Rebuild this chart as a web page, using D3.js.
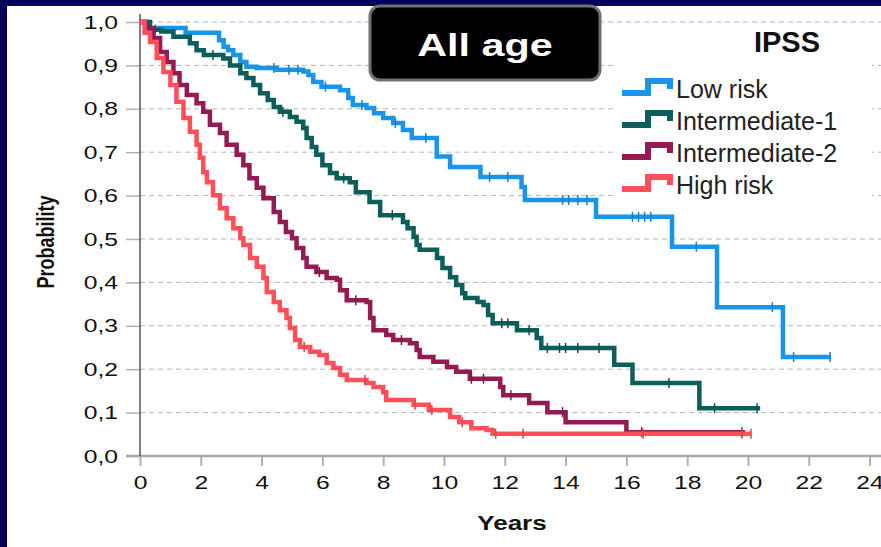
<!DOCTYPE html>
<html>
<head>
<meta charset="utf-8">
<script src="https://cdn.jsdelivr.net/npm/d3@7"></script>
<style>
  body { margin: 0; background: #fff; }
  svg { display: block; font-family: "Liberation Sans", Arial, sans-serif; }
</style>
</head>
<body>
<svg id="chart" width="881" height="547"></svg>
<script>
// step points [years, probability]
var lowRisk = [[0,1],[0.2,0.986],[1.5,0.975],[2.6,0.958],[2.75,0.943],[2.9,0.935],[3.07,0.924],[3.3,0.908],[3.5,0.897],[3.84,0.894],[4.5,0.89],[5.37,0.886],[5.54,0.878],[5.7,0.862],[5.97,0.851],[6.58,0.843],[6.85,0.825],[7.0,0.809],[7.45,0.802],[7.7,0.79],[8.0,0.779],[8.33,0.767],[8.65,0.751],[8.94,0.733],[9.76,0.69],[10.2,0.666],[11.2,0.643],[12.55,0.62],[12.66,0.59],[15.0,0.551],[17.5,0.482],[18.98,0.343],[21.15,0.228]];
var intermediate1 = [[0,1],[0.33,0.982],[0.7,0.978],[1.1,0.966],[1.64,0.951],[1.86,0.935],[2.1,0.924],[2.74,0.916],[2.96,0.9],[3.3,0.882],[3.5,0.871],[3.73,0.855],[3.95,0.836],[4.2,0.82],[4.4,0.804],[4.6,0.793],[4.93,0.781],[5.15,0.77],[5.37,0.756],[5.48,0.733],[5.65,0.712],[5.8,0.694],[6.0,0.67],[6.25,0.652],[6.47,0.64],[6.9,0.631],[7.1,0.608],[7.55,0.585],[7.9,0.555],[8.65,0.539],[8.8,0.525],[9.0,0.505],[9.1,0.486],[9.2,0.475],[9.77,0.456],[9.95,0.433],[10.2,0.412],[10.4,0.394],[10.6,0.375],[10.7,0.364],[11.1,0.355],[11.3,0.348],[11.45,0.325],[11.6,0.306],[12.4,0.29],[13.05,0.272],[13.2,0.249],[15.6,0.21],[16.2,0.168],[18.4,0.11]];
var intermediate2 = [[0,1],[0.2,0.985],[0.44,0.963],[0.66,0.931],[0.88,0.908],[1.1,0.882],[1.3,0.855],[1.54,0.832],[1.86,0.813],[2.08,0.793],[2.3,0.763],[2.63,0.744],[2.85,0.717],[3.18,0.694],[3.4,0.67],[3.6,0.64],[3.84,0.618],[4.06,0.594],[4.4,0.562],[4.6,0.539],[4.8,0.516],[5.0,0.502],[5.15,0.479],[5.37,0.456],[5.48,0.436],[5.8,0.424],[6.14,0.41],[6.47,0.406],[6.58,0.382],[6.8,0.359],[7.45,0.355],[7.57,0.318],[7.68,0.29],[8.1,0.279],[8.33,0.267],[8.88,0.26],[9.1,0.244],[9.2,0.228],[9.65,0.217],[10.1,0.205],[10.4,0.194],[10.85,0.178],[11.85,0.159],[11.95,0.14],[12.8,0.122],[13.4,0.101],[14.0,0.078],[16.0,0.055]];
var highRisk = [[0,1],[0.15,0.975],[0.33,0.954],[0.55,0.917],[0.77,0.885],[1.0,0.855],[1.2,0.816],[1.43,0.779],[1.64,0.747],[1.86,0.717],[1.97,0.687],[2.08,0.654],[2.2,0.631],[2.4,0.601],[2.63,0.571],[2.85,0.548],[3.07,0.525],[3.3,0.502],[3.4,0.486],[3.62,0.456],[3.84,0.436],[4.06,0.41],[4.17,0.378],[4.4,0.355],[4.6,0.336],[4.82,0.318],[4.93,0.295],[5.1,0.267],[5.26,0.251],[5.6,0.24],[5.9,0.233],[6.14,0.214],[6.36,0.203],[6.58,0.187],[6.8,0.175],[7.45,0.168],[7.68,0.159],[8.0,0.147],[8.1,0.129],[9.0,0.118],[9.5,0.106],[10.2,0.09],[10.5,0.078],[10.9,0.064],[11.4,0.06],[11.6,0.051]];

// last follow-up time of each group
var followUpEnd = [22.7, 20.4, 19.9, 20.1];

// censored times (the small ticks)
var lowRiskCensored = [4.4,4.9,5.2,6.1,7.3,8.4,9.4,11.5,12.1,13.9,14.1,14.4,14.7,16.2,16.4,16.6,16.8,18.3,20.8,21.5,22.7];
var int1Censored = [0.5,2.4,4.7,6.7,8.3,11.9,12.1,12.8,13.4,13.8,14.0,14.4,15.1,17.4,18.9,20.3];
var int2Censored = [5.9,7.1,8.6,10.9,11.3,12.2,13.9,16.5,19.8];
var highCensored = [5.4,7.4,9.05,9.6,10.6,11.7,12.6,16.55,19.8,20.1];

var groupNames = ["Low risk", "Intermediate-1", "Intermediate-2", "High risk"];
var groupColors = ["#1a94e6", "#0b5e59", "#931a52", "#ff4f58"];
var xTicks = [0,2,4,6,8,10,12,14,16,18,20,22,24];
var yTicks = [0,0.1,0.2,0.3,0.4,0.5,0.6,0.7,0.8,0.9,1];

var svg = d3.select("#chart");
var W = 881, H = 547;

svg.append("rect").attr("width", W).attr("height", H).attr("fill", "#020058");
svg.append("rect").attr("x", 7).attr("y", 6).attr("width", W-7).attr("height", H-6).attr("fill", "#fff");

var x = d3.scaleLinear().domain([0, 24]).range([140, 869.6]);
var y = d3.scaleLinear().domain([0, 1]).range([456, 22]);

// stretch text horizontally like the source picture
function widen(sel, k) {
	sel.each(function() {
		var w = this.getComputedTextLength();
		d3.select(this).attr("textLength", w*k).attr("lengthAdjust", "spacingAndGlyphs");
	});
}

// grid
svg.append("g").selectAll("line")
	.data(yTicks.slice(1))
	.enter().append("line")
	.attr("x1", 140).attr("x2", W)
	.attr("y1", function(d) { return y(d); })
	.attr("y2", function(d) { return y(d); })
	.attr("stroke", "#b5b5b5").attr("stroke-width", 1)
	.attr("stroke-dasharray", "5,4");

// y axis
var yAxis = svg.append("g")
	.attr("transform", "translate(140,0)")
	.call(d3.axisLeft(y).tickValues(yTicks).tickSize(14).tickPadding(8)
		.tickFormat(function(d) { return d3.format(".1f")(d).replace(".", ","); }));
yAxis.select(".domain").remove();
yAxis.selectAll(".tick line").attr("stroke", "#b0b0b0").attr("stroke-width", 1.5);
yAxis.selectAll("text").attr("font-size", 19).attr("fill", "#111").call(widen, 1.3);

// x axis
var xAxis = svg.append("g")
	.attr("transform", "translate(0,456)")
	.call(d3.axisBottom(x).tickValues(xTicks).tickSize(10).tickPadding(10));
xAxis.select(".domain").remove();
xAxis.selectAll(".tick line").attr("stroke", "#b0b0b0").attr("stroke-width", 2);
xAxis.selectAll("text").attr("font-size", 19).attr("fill", "#111").call(widen, 1.3);

svg.append("line").attr("x1", 126).attr("x2", W).attr("y1", 456).attr("y2", 456)
	.attr("stroke", "#a8a8a8").attr("stroke-width", 2.5);
svg.append("line").attr("x1", 140).attr("x2", 140).attr("y1", 14).attr("y2", 456)
	.attr("stroke", "#555").attr("stroke-width", 1.5);

// axis titles
svg.append("text").attr("x", 512).attr("y", 530)
	.attr("text-anchor", "middle").attr("font-size", 20).attr("font-weight", "bold")
	.attr("fill", "#111").text("Years").call(widen, 1.3);
svg.append("text")
	.attr("transform", "translate(54,242) scale(1.3,1) rotate(-90)")
	.attr("text-anchor", "middle").attr("font-size", 18).attr("font-weight", "bold")
	.attr("fill", "#111").text("Probability");

// curves
var steps = [lowRisk, intermediate1, intermediate2, highRisk];
var censored = [lowRiskCensored, int1Censored, int2Censored, highCensored];

function survivalAt(s, t) {
	var v = s[0][1];
	for(var i=0; i<s.length; i++)
		if(s[i][0] <= t) v = s[i][1];
	return v;
}

var line = d3.line()
	.x(function(d) { return x(d[0]); })
	.y(function(d) { return y(d[1]); })
	.curve(d3.curveStepAfter);

var curves = svg.append("g");
steps.forEach(function(s, i) {
	var pts = s.concat([[followUpEnd[i], s[s.length-1][1]]]);
	var g = curves.append("g");
	g.append("path").attr("d", line(pts))
		.attr("fill", "none").attr("stroke", groupColors[i])
		.attr("stroke-width", 4.5).attr("stroke-linejoin", "miter");
	g.selectAll("line")
		.data(censored[i])
		.enter().append("line")
		.attr("x1", function(d) { return x(d); })
		.attr("x2", function(d) { return x(d); })
		.attr("y1", function(d) { return y(survivalAt(s, d)) - 5; })
		.attr("y2", function(d) { return y(survivalAt(s, d)) + 5; })
		.attr("stroke", d3.color(groupColors[i]).darker(0.4)).attr("stroke-width", 1.5);
});

// title box
svg.append("rect").attr("x", 370).attr("y", 6).attr("width", 230).attr("height", 74)
	.attr("rx", 10).attr("fill", "#000").attr("stroke", "#707070").attr("stroke-width", 3);
svg.append("text").attr("x", 485).attr("y", 56).attr("text-anchor", "middle")
	.attr("font-size", 32).attr("font-weight", "bold").attr("fill", "#fff")
	.text("All age").call(widen, 1.29);

// legend
var legend = svg.append("g");
legend.append("rect").attr("x", 614).attr("y", 28).attr("width", 258).attr("height", 178).attr("fill", "#fff");
legend.append("text").attr("x", 787).attr("y", 52).attr("text-anchor", "middle")
	.attr("font-size", 29).attr("font-weight", "bold").attr("fill", "#111").text("IPSS");

var item = legend.selectAll("g.item")
	.data(groupNames)
	.enter().append("g").attr("class", "item")
	.attr("transform", function(d, i) { return "translate(0," + (98 + i*32) + ")"; });
item.append("path")
	.attr("d", "M622,-5H648V-17H670V-9")
	.attr("fill", "none").attr("stroke-width", 6)
	.attr("stroke", function(d, i) { return groupColors[i]; });
item.append("text").attr("x", 676).attr("y", 0)
	.attr("font-size", 25).attr("fill", "#222")
	.text(function(d) { return d; });
</script>
</body>
</html>
